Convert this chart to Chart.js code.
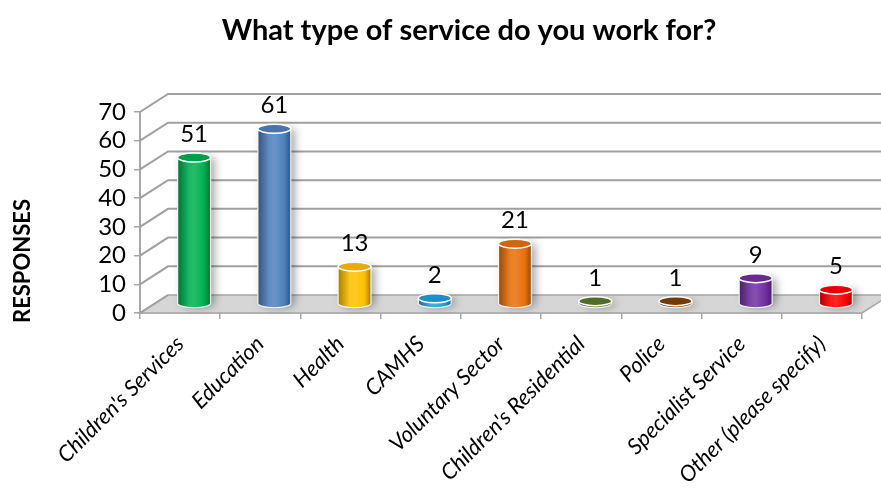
<!DOCTYPE html>
<html>
<head>
<meta charset="utf-8">
<script src="https://cdn.jsdelivr.net/npm/chart.js@4.4.1/dist/chart.umd.min.js"></script>
<style>
  html, body { margin: 0; padding: 0; background: #fff; }
  #wrap { width: 881px; height: 492px; }
</style>
</head>
<body>
<div id="wrap"><canvas id="serviceChart"></canvas></div>
<script>
// data
var categories = ["Children's Services", "Education", "Health", "CAMHS", "Voluntary Sector",
                  "Children's Residential", "Police", "Specialist Service", "Other (please specify)"];
var responses = [51, 61, 13, 2, 21, 1, 1, 9, 5];
var yMin = 0, yMax = 70, yStep = 10;
var chartTitle = 'What type of service do you work for?';
var yTitle = 'RESPONSES';

var barColors = ['#00b050', '#4f81bd', '#ffc000', '#1ea0dc', '#e8700c',
                 '#5a7a2c', '#7f3f0a', '#7030a0', '#ff0000'];

// depth of the fake 3d box
var DX = 28, DY = -18;

function shade(hex, f) {
    var n = parseInt(hex.slice(1), 16);
    var r = (n >> 16) & 255, g = (n >> 8) & 255, b = n & 255;
    function c(v) {
        v = f < 0 ? v * (1 + f) : v + (255 - v) * f;
        return Math.round(Math.max(0, Math.min(255, v)));
    }
    return 'rgb(' + c(r) + ',' + c(g) + ',' + c(b) + ')';
}

var box3d = {
    id: 'box3d',
    beforeDatasetsDraw: function(chart) {
        var ctx = chart.ctx, a = chart.chartArea, y = chart.scales.y;
        ctx.save();
        // floor
        ctx.beginPath();
        ctx.moveTo(a.left, a.bottom);
        ctx.lineTo(a.right, a.bottom);
        ctx.lineTo(a.right + DX, a.bottom + DY);
        ctx.lineTo(a.left + DX, a.bottom + DY);
        ctx.closePath();
        ctx.fillStyle = '#d6d6d6';
        ctx.fill();
        ctx.strokeStyle = '#a6a6a6';
        ctx.lineWidth = 1.5;
        ctx.stroke();
        // back wall grid + side wall lines
        ctx.strokeStyle = '#a0a0a0';
        ctx.lineWidth = 2;
        y.ticks.forEach(function(t) {
            var py = y.getPixelForValue(t.value);
            ctx.beginPath();
            ctx.moveTo(a.left, py);
            ctx.lineTo(a.left + DX, py + DY);
            if (t.value !== 0) ctx.lineTo(a.right + DX + 20, py + DY);
            ctx.stroke();
        });
        ctx.restore();
    },
    afterDatasetsDraw: function(chart) {
        var ctx = chart.ctx;
        var meta = chart.getDatasetMeta(0);
        ctx.save();
        ctx.translate(DX / 2, DY / 2);
        meta.data.forEach(function(bar, i) {
            var p = bar.getProps(['x', 'y', 'base', 'width'], true);
            var col = barColors[i];
            var rx = p.width / 2, ry = 4.5;
            var x0 = p.x - rx, x1 = p.x + rx;
            // body
            var g = ctx.createLinearGradient(x0, 0, x1, 0);
            g.addColorStop(0, shade(col, -0.35));
            g.addColorStop(0.35, shade(col, 0.1));
            g.addColorStop(0.5, shade(col, 0.15));
            g.addColorStop(0.8, col);
            g.addColorStop(1, shade(col, -0.35));
            ctx.save();
            ctx.shadowColor = 'rgba(0,0,0,0.35)';
            ctx.shadowBlur = 8;
            ctx.shadowOffsetX = 4;
            ctx.beginPath();
            ctx.moveTo(x0, p.y);
            ctx.lineTo(x0, p.base);
            ctx.ellipse(p.x, p.base, rx, ry, 0, Math.PI, 0, true);
            ctx.lineTo(x1, p.y);
            ctx.closePath();
            ctx.fillStyle = g;
            ctx.fill();
            ctx.restore();
            ctx.strokeStyle = 'rgba(255,255,255,0.9)';
            ctx.lineWidth = 1.2;
            ctx.stroke();
            // top cap
            ctx.beginPath();
            ctx.ellipse(p.x, p.y, rx, ry, 0, 0, Math.PI * 2);
            ctx.fillStyle = shade(col, -0.1);
            ctx.fill();
            ctx.strokeStyle = '#ffffff';
            ctx.lineWidth = 1.5;
            ctx.stroke();
            // value label
            ctx.fillStyle = '#000';
            ctx.font = '24px Lato';
            ctx.textAlign = 'center';
            ctx.textBaseline = 'alphabetic';
            ctx.fillText(String(responses[i]), p.x, p.y - ry - 11);
        });
        ctx.restore();
    },
    afterDraw: function(chart) {
        var ctx = chart.ctx;
        ctx.save();
        ctx.fillStyle = '#000';
        ctx.textAlign = 'center';
        ctx.textBaseline = 'middle';
        // chart title
        ctx.font = 'bold 29px Lato';
        ctx.fillText(chartTitle, 469, 31);
        // y axis title
        ctx.translate(23, 261);
        ctx.rotate(-Math.PI / 2);
        ctx.font = 'bold 22px Lato';
        ctx.fillText(yTitle, 0, 0);
        ctx.restore();
    }
};

var serviceChart = new Chart(document.getElementById('serviceChart'), {
    type: 'bar',
    data: {
        labels: categories,
        datasets: [{
            label: 'Responses',
            data: responses,
            backgroundColor: 'rgba(0,0,0,0)',
            borderWidth: 0,
            barPercentage: 0.41,
            categoryPercentage: 1
        }]
    },
    options: {
        responsive: true,
        maintainAspectRatio: false,
        animation: false,
        layout: { padding: { left: 0, right: 19, top: 112, bottom: 0 } },
        plugins: {
            legend: { display: false },
            tooltip: { enabled: false },
            title: { display: false }
        },
        scales: {
            x: {
                grid: { display: true, drawOnChartArea: false, tickLength: 6, color: '#a6a6a6', lineWidth: 1.5, offset: true },
                border: { display: true, color: '#a6a6a6', width: 1.5 },
                ticks: {
                    autoSkip: false, maxRotation: 45, minRotation: 45, padding: 12,
                    color: '#000',
                    font: { family: 'Lato', size: 22, style: 'italic' }
                },
                afterFit: function(s) { s.height = 179; }
            },
            y: {
                min: yMin, max: yMax,
                grid: { display: true, drawOnChartArea: false, tickLength: 6, color: '#a6a6a6', lineWidth: 1.5 },
                border: { display: true, color: '#a6a6a6', width: 2 },
                ticks: { stepSize: yStep, autoSkip: false, padding: 8, color: '#000', font: { family: 'Lato', size: 24 } },
                afterFit: function(s) { s.width = 140; }
            }
        }
    },
    plugins: [box3d]
});
</script>
</body>
</html>
